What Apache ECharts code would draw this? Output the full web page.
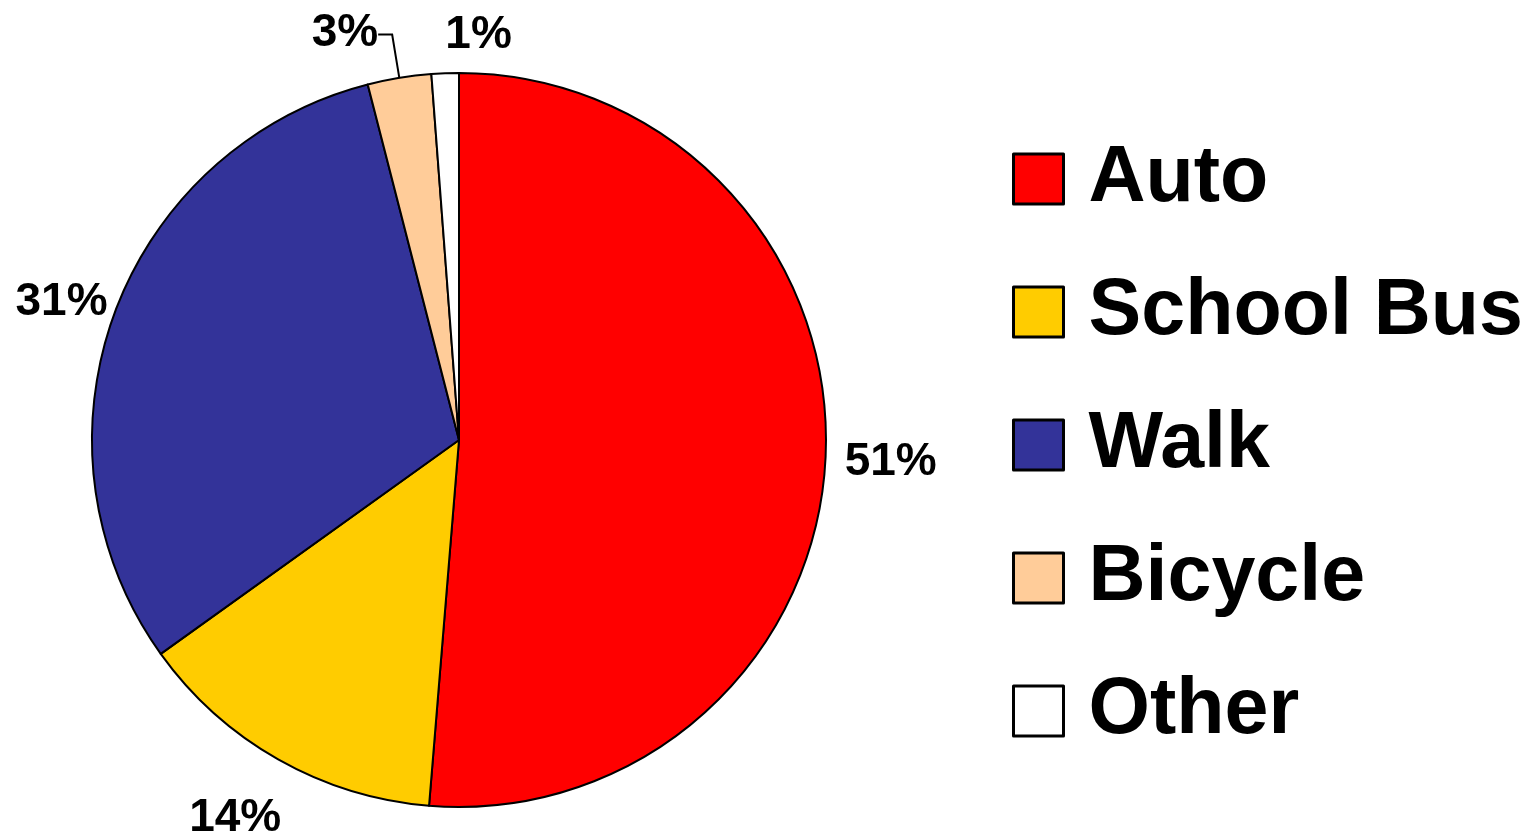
<!DOCTYPE html>
<html>
<head>
<meta charset="utf-8">
<script src="https://cdn.jsdelivr.net/npm/echarts@6/dist/echarts.min.js"></script>
<style>
  html, body { margin: 0; padding: 0; background: #fff; }
  #chart { width: 1535px; height: 834px; }
</style>
</head>
<body>
<div id="chart"></div>
<script>
// travel mode shares (percent)
var modes = ['Auto', 'School Bus', 'Walk', 'Bicycle', 'Other']
var shares = [51.3, 13.8, 30.9, 2.8, 1.2]
var colors = ['#FF0000', '#FFCC00', '#333399', '#FFCC99', '#FFFFFF']

// small nudges so labels sit where the original put them
var labelShift = [
  { dx: 4, dy: 7 },
  { dx: 14, dy: 52 },
  { dx: 7, dy: -10 },
  { dx: 5, dy: -1 },
  { dx: 241, dy: -47 }
]

var chart = echarts.init(document.getElementById('chart'))

var data = modes.map(function (name, i) {
  var item = {
    name: name,
    value: shares[i],
    itemStyle: { color: colors[i] },
    labelLine: { show: false, length: 8, length2: 2 }
  }
  if (name === 'Bicycle') {
    item.labelLine = { show: true, length: 44, length2: 14, lineStyle: { color: '#000', width: 2 } }
  }
  return item
})

chart.setOption({
  animation: false,
  textStyle: { fontFamily: 'Liberation Sans, Arial, sans-serif' },
  legend: {
    orient: 'vertical',
    left: 1007,
    top: 134,
    icon: 'rect',
    itemWidth: 50,
    itemHeight: 50,
    itemGap: 53,
    data: modes,
    itemStyle: { borderColor: '#000', borderWidth: 3 },
    textStyle: {
      fontSize: 79,
      lineHeight: 80,
      fontWeight: 'bold',
      color: '#000',
      padding: [0, 0, 0, 20]
    }
  },
  series: [{
    type: 'pie',
    center: [459, 440],
    radius: 367,
    startAngle: 90,
    clockwise: true,
    data: data,
    itemStyle: { borderColor: '#000', borderWidth: 2 },
    label: {
      show: true,
      position: 'outside',
      overflow: 'none',
      fontSize: 46,
      fontWeight: 'bold',
      color: '#000',
      formatter: function (p) { return Math.round(p.value) + '%' }
    },
    labelLayout: function (p) {
      return labelShift[p.dataIndex]
    },
    emphasis: { disabled: true }
  }]
})
</script>
</body>
</html>
